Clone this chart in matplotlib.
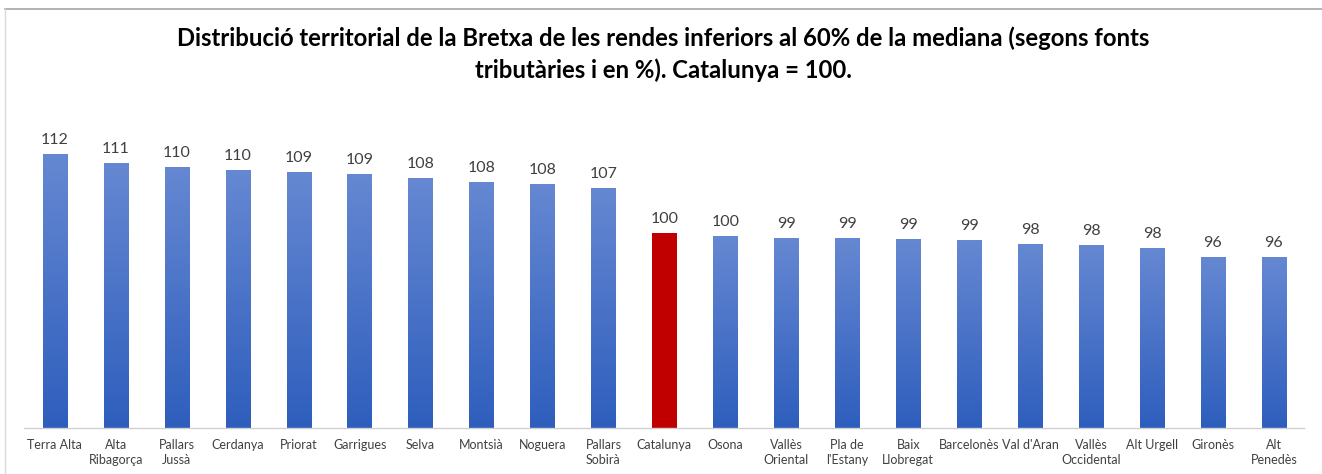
import numpy as np
import matplotlib
matplotlib.use("Agg")
import matplotlib.pyplot as plt
from matplotlib.colors import LinearSegmentedColormap
from matplotlib.lines import Line2D

plt.rcParams['font.family'] = ['Lato', 'DejaVu Sans']

# comarques i valors (Catalunya = 100)
comarques = ["Terra Alta", "Alta\nRibagorça", "Pallars\nJussà", "Cerdanya", "Priorat",
             "Garrigues", "Selva", "Montsià", "Noguera", "Pallars\nSobirà", "Catalunya",
             "Osona", "Vallès\nOriental", "Pla de\nl'Estany", "Baix\nLlobregat",
             "Barcelonès", "Val d'Aran", "Vallès\nOccidental", "Alt Urgell", "Gironès",
             "Alt\nPenedès"]
valors = [112.2, 110.7, 110.2, 109.7, 109.4, 109.1, 108.4, 107.8, 107.6, 106.9, 100.0,
          99.6, 99.3, 99.2, 99.1, 98.9, 98.3, 98.2, 97.7, 96.3, 96.3]
destacat = "Catalunya"

ymin, ymax = 70, 120
blau = LinearSegmentedColormap.from_list("blau", ["#2e5ebd", "#6688d2"])
grad = np.linspace(0, 1, 256).reshape(-1, 1)

fig = plt.figure(figsize=(13.22, 4.74), dpi=100)
ax = fig.add_axes([0.0185, 0.0964, 0.9682, 0.6867])

x = np.arange(len(comarques))
amplada = 0.40
for xi, v, nom in zip(x, valors, comarques):
    if nom == destacat:
        ax.bar(xi, v - ymin, width=amplada, bottom=ymin, color="#c00000", zorder=2)
    else:
        b = ax.bar(xi, v - ymin, width=amplada, bottom=ymin, color="none", zorder=2)[0]
        im = ax.imshow(grad, cmap=blau, aspect="auto", origin="lower",
                       extent=[xi - amplada / 2, xi + amplada / 2, ymin, v], zorder=2)
        im.set_clip_path(b)
    ax.annotate(f"{v:.0f}", (xi, v), xytext=(0, 5), textcoords="offset points",
                ha="center", va="bottom", fontsize=11.5, color="#404040")

ax.set_xlim(-0.5, len(comarques) - 0.5)
ax.set_ylim(ymin, ymax)
ax.set_xticks(x)
ax.set_xticklabels(comarques, fontsize=9, color="#404040", linespacing=1.25)
ax.tick_params(axis="x", length=0, pad=8)
ax.set_yticks([])
for s in ["top", "left", "right"]:
    ax.spines[s].set_visible(False)
ax.spines["bottom"].set_color("#d0d0d0")
ax.spines["bottom"].set_linewidth(1)

fig.text(0.502, 1 - 54 / 474, "Distribució territorial de la Bretxa de les rendes inferiors al 60% de la mediana (segons fonts\n"
         "tributàries i en %). Catalunya = 100.", ha="center", va="center",
         fontsize=17.2, fontweight="bold", linespacing=1.45)

# marc del gràfic
fig.add_artist(Line2D([5 / 1322, 1], [1 - 8.5 / 474, 1 - 8.5 / 474], transform=fig.transFigure,
                      color="#a6a6a6", lw=1.2))
fig.add_artist(Line2D([5 / 1322, 5 / 1322], [0, 1 - 8.5 / 474], transform=fig.transFigure,
                      color="#d9d9d9", lw=1))

fig.savefig("out.png", dpi=100)
